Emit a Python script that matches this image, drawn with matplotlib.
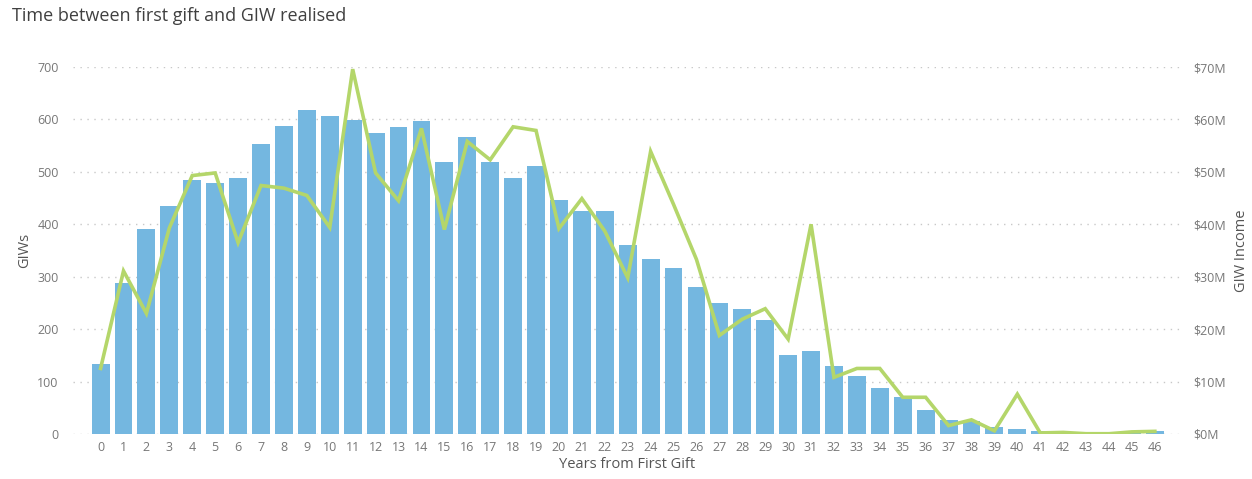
import numpy as np
import matplotlib.pyplot as plt
from matplotlib.ticker import FuncFormatter

plt.rcParams['font.family'] = ['Open Sans', 'DejaVu Sans']

years = list(range(47))
giws = [133, 288, 392, 435, 484, 478, 489, 553, 587, 619,
        606, 599, 575, 585, 598, 518, 567, 519, 488, 512,
        447, 425, 425, 360, 334, 317, 280, 249, 238, 217,
        150, 158, 130, 111, 87, 70, 46, 26, 24, 14,
        10, 6, 2, 1, 1, 3, 6]
income_m = [12.5, 31.1, 23.0, 39.3, 49.3, 49.8, 36.5, 47.4, 46.9, 45.5,
            39.4, 69.6, 49.8, 44.5, 58.3, 39.0, 55.8, 52.3, 58.6, 57.9,
            39.2, 44.9, 38.7, 29.8, 53.9, 43.8, 33.3, 18.8, 21.9, 23.9,
            18.1, 40.0, 10.8, 12.5, 12.5, 7.0, 7.0, 1.6, 2.7, 0.6,
            7.6, 0.2, 0.3, 0.05, 0.05, 0.4, 0.5]

bar_color = '#74B7E0'
line_color = '#B4D66A'
tick_color = '#777777'
label_color = '#555555'

fig = plt.figure(figsize=(12.52, 4.79), dpi=100)
ax = fig.add_axes([0.058, 0.094, 0.886, 0.766])
ax2 = ax.twinx()

ax.bar(years, giws, width=0.78, color=bar_color, zorder=2)
ax2.plot(years, income_m, color=line_color, lw=2.6, zorder=3,
         solid_joinstyle='miter')

ax.set_xlim(-1.22, 47.18)
ax.set_ylim(0, 700)
ax2.set_ylim(0, 70)
ax.set_yticks(np.arange(0, 701, 100))
ax2.set_yticks(np.arange(0, 71, 10))
ax.set_xticks(years)
ax2.yaxis.set_major_formatter(FuncFormatter(lambda v, p: '$%dM' % v))

ax.grid(axis='y', color='#C8C8C8', linestyle=(0, (1, 4)), lw=1, zorder=0)
ax.set_axisbelow(True)
ax.set_zorder(ax2.get_zorder() - 1)
ax.patch.set_visible(True)
ax2.patch.set_visible(False)

for a in (ax, ax2):
    for s in a.spines.values():
        s.set_visible(False)
    a.tick_params(length=0, colors=tick_color, labelsize=9)
ax.tick_params(axis='y', pad=10)
ax.tick_params(axis='x', pad=5)
ax2.tick_params(axis='y', pad=8)

ax.set_xlabel('Years from First Gift', color=label_color, fontsize=10.5, labelpad=2)
ax.set_ylabel('GIWs', color=label_color, fontsize=10.5, labelpad=4)
ax2.set_ylabel('GIW Income', color=label_color, fontsize=10.5, labelpad=6)

fig.text(0.0096, 0.966, 'Time between first gift and GIW realised',
         fontsize=13, color='#404040', ha='left', va='center')

fig.savefig('out.png', dpi=100)
